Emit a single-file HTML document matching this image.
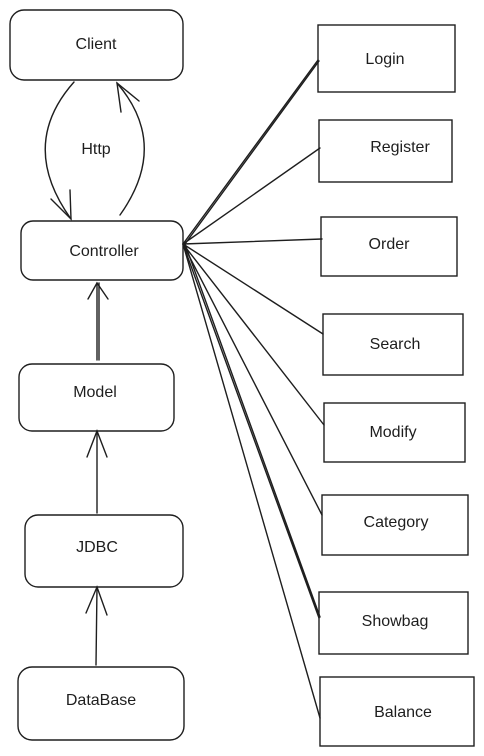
<!DOCTYPE html>
<html><head><style>html,body{margin:0;padding:0;background:#fff}svg{display:block}</style></head>
<body>
<svg width="484" height="756" viewBox="0 0 484 756" xmlns="http://www.w3.org/2000/svg">
<g fill="none" stroke="#1e1e1e" stroke-width="1.4" stroke-linecap="round">
<rect x="10" y="10" width="173" height="70" rx="14"/>
<rect x="21" y="221" width="162" height="59" rx="12"/>
<rect x="19" y="364" width="155" height="67" rx="13"/>
<rect x="25" y="515" width="158" height="72" rx="13"/>
<rect x="18" y="667" width="166" height="73" rx="14"/>
<rect x="318" y="25" width="137" height="67"/>
<rect x="319" y="120" width="133" height="62"/>
<rect x="321" y="217" width="136" height="59"/>
<rect x="323" y="314" width="140" height="61"/>
<rect x="324" y="403" width="141" height="59"/>
<rect x="322" y="495" width="146" height="60"/>
<rect x="319" y="592" width="149" height="62"/>
<rect x="320" y="677" width="154" height="69"/>
<path d="M183 244 L318 60 M185 244 L319 61"/>
<path d="M183 244 L320 148"/>
<path d="M183 244 L322 239"/>
<path d="M183 244 L323 334"/>
<path d="M183 244 L324 425"/>
<path d="M183 244 L322 515"/>
<path d="M183 244 L319 618 M185 244 L320 617"/>
<path d="M183 244 L320 718"/>
<path d="M74 82 Q18 145 71 219"/>
<path d="M51 199 L71 219 L70 190"/>
<path d="M120 215 Q170 145 117 83"/>
<path d="M121 112 L117 83 L139 101"/>
<path d="M97 360 L97 283 M99 360 L99 283"/>
<path d="M88 299 L97 283 L108 299"/>
<path d="M97 513 L97 431"/>
<path d="M87 457 L97 431 L107 457"/>
<path d="M96 665 L97 587"/>
<path d="M86 613 L97 587 L107 615"/>
</g>
<g font-family="'Liberation Sans', sans-serif" font-size="16" fill="#1e1e1e" text-anchor="middle" dominant-baseline="middle">
<text x="96" y="45">Client</text>
<text x="96" y="150">Http</text>
<text x="104" y="252">Controller</text>
<text x="95" y="393">Model</text>
<text x="97" y="548">JDBC</text>
<text x="101" y="701">DataBase</text>
<text x="385" y="60">Login</text>
<text x="400" y="148">Register</text>
<text x="389" y="245">Order</text>
<text x="395" y="345">Search</text>
<text x="393" y="433">Modify</text>
<text x="396" y="523">Category</text>
<text x="395" y="622">Showbag</text>
<text x="403" y="713">Balance</text>
</g>
</svg>
</body></html>
